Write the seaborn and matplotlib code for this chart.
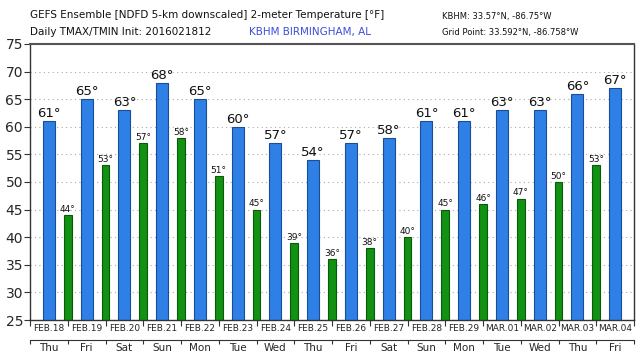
import numpy as np
import pandas as pd
import matplotlib
matplotlib.use("Agg")
import matplotlib.pyplot as plt
import seaborn as sns

dates = ["FEB.18", "FEB.19", "FEB.20", "FEB.21", "FEB.22", "FEB.23", "FEB.24", "FEB.25",
         "FEB.26", "FEB.27", "FEB.28", "FEB.29", "MAR.01", "MAR.02", "MAR.03", "MAR.04"]
weekdays = ["Thu", "Fri", "Sat", "Sun", "Mon", "Tue", "Wed", "Thu",
            "Fri", "Sat", "Sun", "Mon", "Tue", "Wed", "Thu", "Fri"]
tmax = [61, 65, 63, 68, 65, 60, 57, 54, 57, 58, 61, 61, 63, 63, 66, 67]
tmin = [44, 53, 57, 58, 51, 45, 39, 36, 38, 40, 45, 46, 47, 50, 53]
yticks = [25, 30, 35, 40, 45, 50, 55, 60, 65, 70, 75]

sns.set_theme(style="white")
plt.rcParams["font.family"] = ["DejaVu Sans"]

fig = plt.figure(figsize=(6.4, 3.6), dpi=100)
ax = fig.add_axes([30 / 640, 1 - 320 / 360, 604 / 640, 276 / 360])

n = len(tmax)
df_max = pd.DataFrame({"x": np.arange(n) + 0.5, "t": tmax})
df_min = pd.DataFrame({"x": np.arange(len(tmin)) + 1.0, "t": tmin})

sns.barplot(data=df_max, x="x", y="t", native_scale=True, width=0.32,
            color="#2F80E6", saturation=1, edgecolor="#1b4c95", linewidth=0.8,
            errorbar=None, ax=ax)
sns.barplot(data=df_min, x="x", y="t", native_scale=True, width=0.21,
            color="#129212", saturation=1, edgecolor="#0b5a0b", linewidth=0.8,
            errorbar=None, ax=ax)

for xv, v in zip(df_max["x"], tmax):
    ax.text(xv, v + 0.2, f"{v}°", ha="center", va="bottom", fontsize=9.5, color="#111111")
for xv, v in zip(df_min["x"], tmin):
    ax.text(xv, v + 0.2, f"{v}°", ha="center", va="bottom", fontsize=6.5, color="#111111")

ax.set_ylim(25, 75)
ax.set_xlim(0, 16)
ax.set_yticks(yticks)
ax.set_yticklabels([str(t) for t in yticks], fontsize=10)
ax.yaxis.grid(True, linestyle=(0, (1, 3)), color="#aaaaaa", linewidth=0.8)
ax.xaxis.grid(False)
ax.set_xlabel("")
ax.set_ylabel("")

ax.set_xticks(np.arange(0, 17))
ax.set_xticklabels([])
ax.set_xticks(np.arange(n) + 0.5, minor=True)
ax.set_xticklabels(dates, minor=True, fontsize=6.5)
ax.tick_params(axis="x", which="major", direction="out", length=4, width=0.8, color="#333333", bottom=True)
ax.tick_params(axis="x", which="minor", length=0, pad=3)
ax.tick_params(axis="y", direction="out", length=4, width=0.8, color="#333333", left=True, labelsize=10, pad=1)

for s in ["left", "bottom", "top", "right"]:
    ax.spines[s].set_visible(True)
    ax.spines[s].set_color("#333333")
    ax.spines[s].set_linewidth(1.0)
ax.spines["top"].set_color("#555555")
ax.spines["top"].set_linewidth(1.5)

sec = ax.secondary_xaxis(-20 / 276)
sec.set_xticks(np.arange(0, 17))
sec.set_xticklabels([])
sec.set_xticks(np.arange(n) + 0.5, minor=True)
sec.set_xticklabels(weekdays, minor=True, fontsize=7.5)
sec.tick_params(axis="x", which="major", direction="out", length=3, width=0.8, color="#333333")
sec.tick_params(axis="x", which="minor", length=0, pad=2)
sec.spines["bottom"].set_color("#333333")
sec.spines["bottom"].set_linewidth(0.8)

fig.text(30 / 640, 1 - 15 / 360, "GEFS Ensemble [NDFD 5-km downscaled] 2-meter Temperature [°F]",
         fontsize=7.5, ha="left", va="center", color="#111111")
fig.text(30 / 640, 1 - 32 / 360, "Daily TMAX/TMIN Init: 2016021812",
         fontsize=7.5, ha="left", va="center", color="#111111")
fig.text(310 / 640, 1 - 32 / 360, "KBHM BIRMINGHAM, AL",
         fontsize=7.5, ha="center", va="center", color="#3a4fdc")
fig.text(442 / 640, 1 - 16 / 360, "KBHM: 33.57°N, -86.75°W",
         fontsize=6, ha="left", va="center", color="#111111")
fig.text(442 / 640, 1 - 32 / 360, "Grid Point: 33.592°N, -86.758°W",
         fontsize=6, ha="left", va="center", color="#111111")

fig.savefig("out.png", dpi=100)
